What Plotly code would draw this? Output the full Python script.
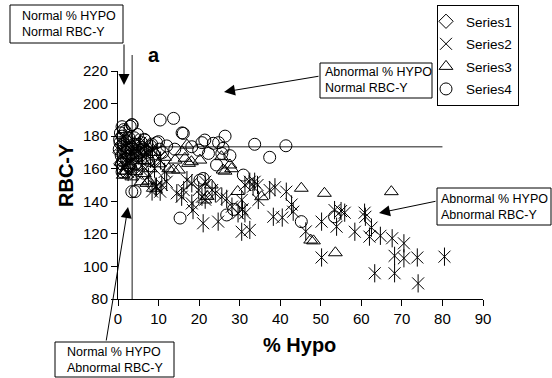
import plotly.graph_objects as go

# ---------------- data ----------------
s1_x = [0.5, 1.5, 2.2, 1.0, 2.8, 3.6, 0.7, 4.2, 1.8, 2.6]
s1_y = [170, 166, 172, 175, 168, 173, 163, 169, 178, 161]

s2_x = [1.0, 2.0, 3.0, 4.0, 5.0, 6.0, 7.0, 8.0, 2.5, 4.5, 6.5, 9.0, 1.5, 3.5, 5.5, 8.5,
        10.5, 11.5, 12.0, 7.5, 9.5, 10.8, 0.8, 3.2,
        8.4, 9.2, 10.4, 14.5, 15.7, 16.2, 17.0, 18.2, 18.2, 18.5, 19.9, 20.7, 21.5, 21.5,
        21.0, 23.2, 24.0, 24.7, 25.6, 26.8, 28.1, 29.6, 30.5, 30.7, 31.3, 30.5, 32.5, 31.3,
        32.5, 33.7, 34.4, 33.3, 34.6, 37.4, 38.7, 41.5, 38.3, 40.5, 42.8, 43.2, 46.3, 50.2,
        50.2, 53.4, 55.0, 55.9, 53.9, 58.4,
        60.8, 61.0, 62.5, 62.0, 64.7, 67.6, 70.5, 68.2, 70.5, 73.8, 80.5, 63.3, 68.2, 74.0]
s2_y = [168, 175, 165, 172, 168, 162, 170, 166, 158, 157, 174, 160, 180, 178, 176, 172,
        165, 158, 152, 155, 149, 150, 172, 170,
        146, 149, 145.9, 144.9, 142.8, 146.9, 153, 151, 138.7, 134.6, 146.9, 142.8, 141, 152,
        126.5, 146.9, 145, 127.5, 142.8, 141.5, 136.7, 132.6, 140.8, 135, 132.6, 121.3, 122.4, 150,
        152, 152, 150, 149, 140.8, 146.9, 148.6, 145.9, 130.5, 130, 138, 133.6, 121.5, 127.5,
        105.5, 134.6, 134, 133, 124.4, 121.3,
        133, 130.5, 123.8, 118.3, 118.8, 117.3, 114.2, 106.5, 105, 105.5, 106, 95.8, 95.8, 89.6]

s3_x = [1.3, 3.4, 4.8, 5.7, 7.1, 8.7, 7.6, 1.7, 4.3, 2.5, 6.0, 8.0, 10.0, 11.5, 12.5, 3.0,
        0.8, 9.0, 6.5,
        13.6, 14.1, 15.8, 14.9, 17.0, 17.4, 16.5, 18.1, 20.2, 25.5, 25.9, 28.0, 26.4, 27.6,
        21.4, 35.4, 45.2, 50.9, 47.5, 48.2, 53.6, 67.4, 23.0, 22.0, 29.5]
s3_y = [156, 155, 161, 152, 151, 148, 152.5, 158.6, 158.2, 162, 165, 160, 163, 167, 160, 168,
        164, 170, 157,
        159.2, 165.3, 170.4, 159.2, 174.5, 163.3, 166.4, 164.3, 165.3, 167.4, 159.2, 160, 158.5, 162.3,
        140.8, 142.8, 148, 144.9, 116.2, 115.7, 108.4, 145.9, 150, 143, 146]

s4_x = [0.3, 0.5, 0.8, 1.0, 1.2, 1.5, 1.8, 2.0, 2.3, 2.6, 3.0, 3.3, 3.6, 4.0, 4.5, 5.0,
        5.5, 6.0, 6.5, 7.0, 7.5, 8.0, 8.8, 9.5, 10.2, 11.0, 0.6, 1.1, 1.6, 2.1, 2.7, 3.2,
        3.8, 4.3, 4.8, 5.3, 6.2, 7.2, 8.3, 0.4, 0.9, 1.4, 2.4, 3.5, 4.6, 5.8, 6.8, 1.0,
        2.0, 3.0,
        10.4, 13.7, 15.8, 26.4, 16.1, 21.4, 23.5, 25.9, 24.3, 20.7, 22.3, 25.6, 19.9, 27.6,
        18.2, 24.8, 3.4, 4.2, 15.3, 20.2, 21.0, 26.8, 45.2, 53.4, 33.7, 41.4, 37.4, 30.9,
        1.0, 3.4, 6.6, 10.0, 12.0, 14.0, 28.5]
s4_y = [172, 176, 168, 180, 165, 174, 183, 170, 177, 162, 186, 172, 166, 179, 171, 175,
        168, 173, 178, 170, 165, 174, 169, 176, 172, 170, 182, 160, 171, 166, 179, 169,
        175, 163, 181, 170, 172, 166, 175, 178, 163, 184, 173, 187, 168, 176, 171, 158,
        158, 161,
        189.9, 190.9, 182, 180, 181.7, 177.6, 175.6, 172.5, 162.3, 176, 169.4, 169.4, 171.4, 168,
        173.5, 176, 145.9, 146, 129.7, 153, 154, 131.6, 127.5, 130.5, 175, 174.1, 167, 156.1,
        185.8, 187, 177.6, 176.6, 174, 172, 135]

x_ticks = [0, 10, 20, 30, 40, 50, 60, 70, 80, 90]
y_ticks = [80, 100, 120, 140, 160, 180, 200, 220]
hypo_cut = 3.5      # % Hypo threshold
rbcy_cut = 173.5    # RBC-Y threshold
hline_end = 80

# ---------------- layout helpers (pixel -> paper) ----------------
W, H = 552, 378
L, R, T, B = 118, 69, 71, 79
PW, PH = W - L - R, H - T - B


def px(x):
    return (x - L) / PW


def py(y):
    return (H - B - y) / PH


FONT = "Liberation Sans, Arial, sans-serif"

fig = go.Figure()
mk = dict(color="black", size=12, line=dict(color="black", width=1))

fig.add_trace(go.Scatter(x=s1_x, y=s1_y, mode="markers", name="Series1", legendgroup="g1",
                         cliponaxis=False,
                         marker=dict(mk, symbol="diamond-open", size=11)))
fig.add_trace(go.Scatter(x=s2_x, y=s2_y, mode="markers", name="Series2", legendgroup="g2",
                         cliponaxis=False,
                         marker=dict(mk, symbol="x-thin-open", size=12)))
fig.add_trace(go.Scatter(x=s2_x, y=s2_y, mode="markers", name="Series2", legendgroup="g2",
                         showlegend=False, cliponaxis=False, hoverinfo="skip",
                         marker=dict(mk, symbol="line-ns-open", size=13)))
fig.add_trace(go.Scatter(x=s3_x, y=s3_y, mode="markers", name="Series3", legendgroup="g3",
                         cliponaxis=False,
                         marker=dict(mk, symbol="triangle-up-open", size=12)))
fig.add_trace(go.Scatter(x=s4_x, y=s4_y, mode="markers", name="Series4", legendgroup="g4",
                         cliponaxis=False,
                         marker=dict(mk, symbol="circle-open", size=12)))

shapes = [
    dict(type="line", xref="x", yref="paper", x0=hypo_cut, x1=hypo_cut, y0=0, y1=py(55),
         line=dict(color="#666666", width=1.5), layer="below"),
    dict(type="line", xref="x", yref="y", x0=hypo_cut, x1=hline_end, y0=rbcy_cut, y1=rbcy_cut,
         line=dict(color="#666666", width=1.5), layer="below"),
]

boxes = [
    # (left, top, right, bottom, text_x, text)
    (10, 5, 123, 43, 20, "Normal % HYPO<br>Normal RBC-Y"),
    (320, 63, 432, 98, 323, "Abnormal % HYPO<br>Normal RBC-Y"),
    (437, 188, 551, 225, 439, "Abnormal % HYPO<br>Abnormal RBC-Y"),
    (55, 342, 174, 377, 65, "Normal % HYPO<br>Abnormal RBC-Y"),
]
annotations = []
for (l, t, r, b, tx, txt) in boxes:
    shapes.append(dict(type="rect", xref="paper", yref="paper", x0=px(l), x1=px(r),
                       y0=py(b), y1=py(t), line=dict(color="black", width=1),
                       fillcolor="white", layer="above"))
    annotations.append(dict(xref="paper", yref="paper", x=px(tx), y=py((t + b) / 2),
                            xanchor="left", yanchor="middle", align="left", showarrow=False,
                            text=txt, font=dict(family=FONT, size=12.5, color="black")))

# arrows: head (x, y) and tail offset in pixels
arrows = [
    (124, 85, 0, -42),
    (224, 92, 96, -16),
    (379, 213, 58, -12),
    (128, 207, -22, 135),
]
for (hx, hy, ax, ay) in arrows:
    annotations.append(dict(xref="paper", yref="paper", x=px(hx), y=py(hy), ax=ax, ay=ay,
                            text="", showarrow=True, arrowhead=2, arrowsize=2.2,
                            arrowwidth=1, arrowcolor="black", standoff=0))

annotations += [
    dict(xref="paper", yref="paper", x=px(154), y=py(55), text="<b>a</b>", showarrow=False,
         xanchor="center", yanchor="middle",
         font=dict(family=FONT, size=20, color="black")),
    dict(xref="paper", yref="paper", x=px(66), y=py(175), text="<b>RBC-Y</b>", showarrow=False,
         xanchor="center", yanchor="middle", textangle=-90,
         font=dict(family=FONT, size=20, color="black")),
    dict(xref="paper", yref="paper", x=px(299), y=py(345), text="<b>% Hypo</b>", showarrow=False,
         xanchor="center", yanchor="middle",
         font=dict(family=FONT, size=20, color="black")),
]

axis_common = dict(showline=True, linecolor="black", linewidth=1, ticks="outside", ticklen=6,
                   tickcolor="black", tickwidth=1, showgrid=False, zeroline=False,
                   tickfont=dict(family=FONT, size=15, color="black"), mirror=False,
                   automargin=False)

fig.update_layout(
    template="none",
    width=W, height=H, autosize=False,
    margin=dict(l=L, r=R, t=T, b=B, pad=0, autoexpand=False),
    paper_bgcolor="white", plot_bgcolor="white",
    font=dict(family=FONT, color="black"),
    xaxis=dict(axis_common, range=[0, 90], tickvals=x_ticks),
    yaxis=dict(axis_common, range=[80, 220], tickvals=y_ticks),
    showlegend=True,
    legend=dict(x=px(519), xanchor="right", y=py(5), yanchor="top",
                bordercolor="black", borderwidth=1, bgcolor="white",
                font=dict(family=FONT, size=13.5, color="black"),
                itemwidth=30, tracegroupgap=2, indentation=-12),
    shapes=shapes,
    annotations=annotations,
)

fig.write_html("out.html", config={"displayModeBar": False},
               post_script="document.body.style.margin='0';document.body.style.padding='0';")
